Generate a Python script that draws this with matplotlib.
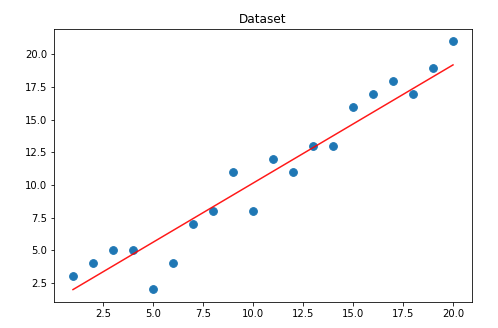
import numpy as np
import matplotlib.pyplot as plt

x = np.arange(1, 21)
y = [3, 4, 5, 5, 2, 4, 7, 8, 11, 8, 12, 11, 13, 13, 16, 17, 18, 17, 19, 21]

# fitted line
slope = 0.906
intercept = 1.08

fig = plt.figure(figsize=(498/72, 328/72), dpi=72)
ax = fig.add_axes([0.1084, 0.0793, 0.8394, 0.8323])
ax.scatter(x, y, s=60)
ax.plot(x, slope*x + intercept, color='red', alpha=0.9)
ax.set_title('Dataset')
fig.savefig('out.png', dpi=72)
